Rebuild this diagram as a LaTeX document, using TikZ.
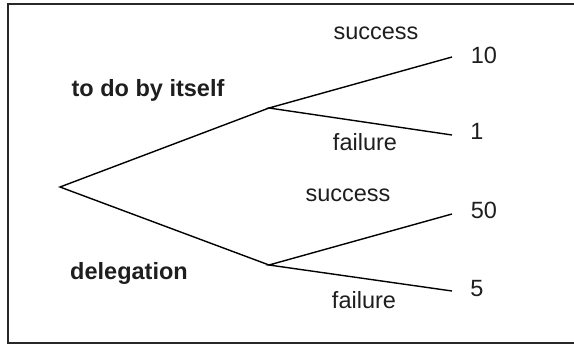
\documentclass[tikz,border=0pt]{standalone}
\usepackage{fontspec}
\setmainfont{Liberation Sans}
\begin{document}
\begin{tikzpicture}[x=1pt,y=-1pt,
  branch/.style={line width=1.4pt, black},
  frameline/.style={line width=2pt, draw={rgb,255:red,40;green,40;blue,40}},
  lbl/.style={inner sep=0pt, font=\fontsize{23.5}{26}\selectfont, text={rgb,255:red,30;green,30;blue,30}},
  blbl/.style={lbl, font=\fontsize{23.5}{26}\selectfont\bfseries}]
\useasboundingbox (0,0) rectangle (574,345);
\clip (0,0) rectangle (574,345);
% outer frame (runs past the right edge)
\draw[frameline] (7.5,4.5) rectangle (590,342.5);
% decision points
\coordinate (root) at (60,187);
\coordinate (self) at (269,108);
\coordinate (dele) at (269,265);
\coordinate (s10) at (452,57);
\coordinate (s1) at (452,135);
\coordinate (s50) at (452,214);
\coordinate (s5) at (452,291);
% branches
\draw[branch] (s10) -- (self) -- (s1);
\draw[branch] (self) -- (root) -- (dele);
\draw[branch] (s50) -- (dele) -- (s5);
% labels
\node[blbl] (tself) at (148,90) {to do by itself};
\node[blbl] (tdele) at (129,273) {delegation};
\node[lbl] (suc1) at (376,33) {success};
\node[lbl] (fai1) at (365,142) {failure};
\node[lbl] (suc2) at (348,195) {success};
\node[lbl] (fai2) at (364,300) {failure};
\node[lbl] (v10) at (484,55) {10};
\node[lbl] (v1) at (477,131) {1};
\node[lbl] (v50) at (484,210) {50};
\node[lbl] (v5) at (477,289) {5};
\end{tikzpicture}
\end{document}
